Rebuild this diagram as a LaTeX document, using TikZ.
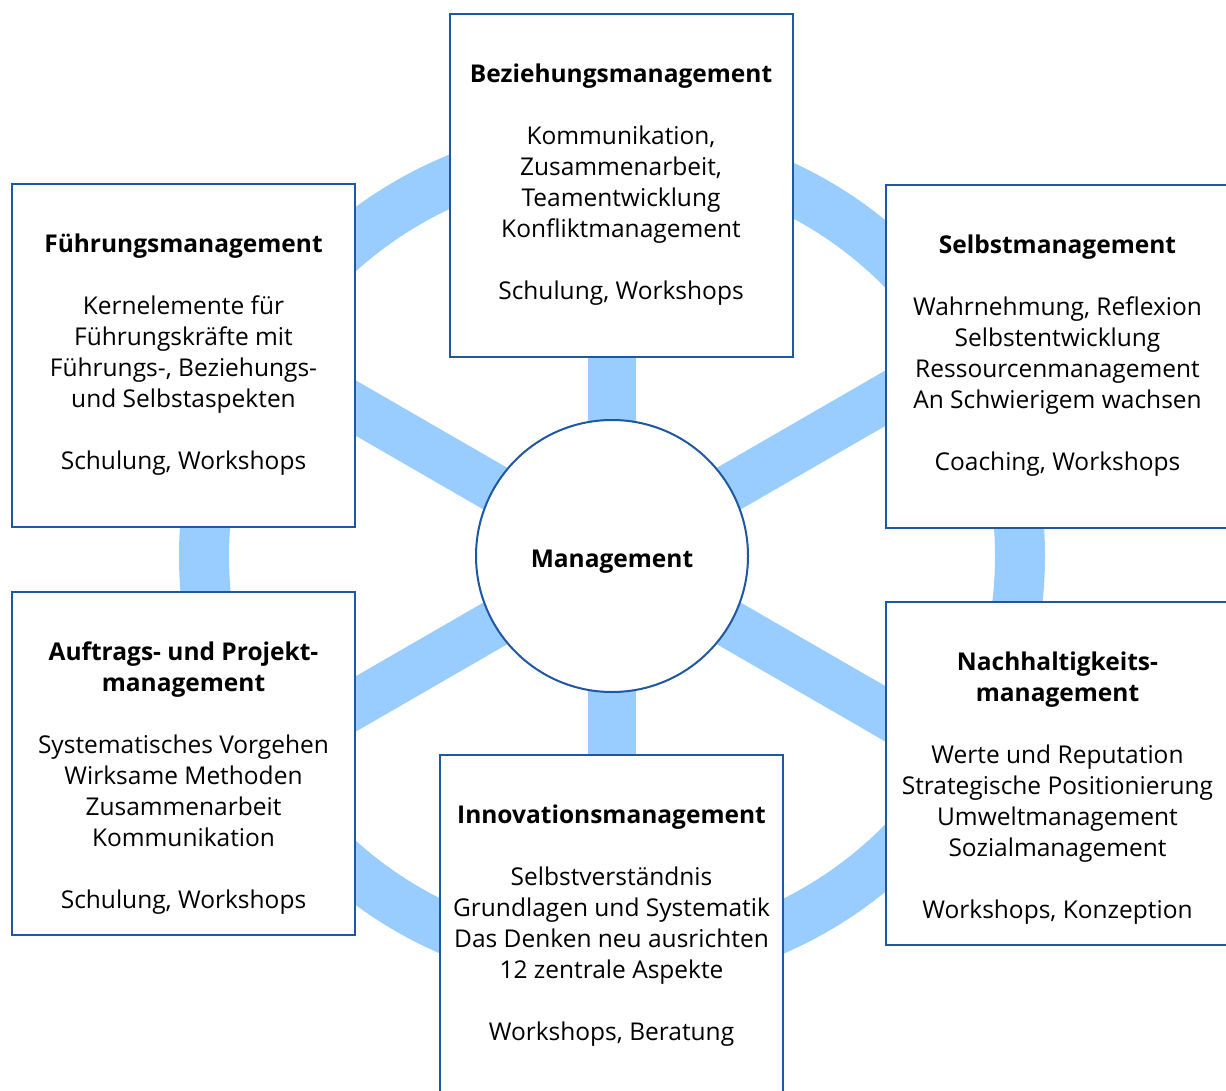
\documentclass[tikz,border=0pt]{standalone}
\usepackage{fontspec}
\setmainfont{Open Sans}
\usetikzlibrary{positioning}
\definecolor{rim}{HTML}{99CCFF}
\definecolor{frame}{HTML}{1F57A0}

\begin{document}
\begin{tikzpicture}[x=1pt,y=-1pt,
  box/.style={draw=frame,line width=2pt,fill=white,minimum width=343pt,
              minimum height=343pt,inner sep=0pt},
  txt/.style={align=center,inner sep=0pt,font=\fontsize{24.5}{31}\selectfont},
  band/.style={draw=rim,line width=50pt},
  hub/.style={circle,draw=frame,line width=2pt,fill=white,minimum size=272pt,
              font=\fontsize{24.5}{31}\selectfont\bfseries}
]
  \useasboundingbox (0,0) rectangle (1226,1091);
  \coordinate (c) at (612,556);
  % wheel: rim and six spokes
  \draw[band] (c) circle (408pt);
  \foreach \a in {30,90,...,330}
    \draw[band,line width=48pt] (c) -- ++(\a:460);
  % fields
  \node[box] (bez) at (621,185.5) {};
  \node[box] (fuehr) at (183.5,355.5) {};
  \node[box] (selbst) at (1057.5,356.5) {};
  \node[box] (auftrag) at (183.5,763.5) {};
  \node[box] (nach) at (1057.5,773.5) {};
  \node[box] (inno) at (611.5,926.5) {};
  \node[txt,below=50.5pt of bez.north] (beztxt) {\textbf{Beziehungsmanagement}\\[31pt]
    Kommunikation,\\Zusammenarbeit,\\Teamentwicklung\\Konfliktmanagement\\[31pt]
    Schulung, Workshops};
  \node[txt,below=50.5pt of fuehr.north] (fuehrtxt) {\textbf{Führungsmanagement}\\[31pt]
    Kernelemente für\\Führungskräfte mit\\Führungs-, Beziehungs-\\und Selbstaspekten\\[31pt]
    Schulung, Workshops};
  \node[txt,below=50.5pt of selbst.north] (selbsttxt) {\textbf{Selbstmanagement}\\[31pt]
    Wahrnehmung, Reflexion\\Selbstentwicklung\\Ressourcenmanagement\\An Schwierigem wachsen\\[31pt]
    Coaching, Workshops};
  \node[txt,below=50.5pt of auftrag.north] (auftragtxt) {\textbf{Auftrags- und Projekt-}\\\textbf{management}\\[31pt]
    Systematisches Vorgehen\\Wirksame Methoden\\Zusammenarbeit\\Kommunikation\\[31pt]
    Schulung, Workshops};
  \node[txt,below=50.5pt of nach.north] (nachtxt) {\textbf{Nachhaltigkeits-}\\\textbf{management}\\[31pt]
    Werte und Reputation\\Strategische Positionierung\\Umweltmanagement\\Sozialmanagement\\[31pt]
    Workshops, Konzeption};
  \node[txt,below=50.5pt of inno.north] (innotxt) {\textbf{Innovationsmanagement}\\[31pt]
    Selbstverständnis\\Grundlagen und Systematik\\Das Denken neu ausrichten\\12 zentrale Aspekte\\[31pt]
    Workshops, Beratung};
  % centre
  \node[hub] (hub) at (c) {\smash{\raisebox{-11pt}{Management}}};
\end{tikzpicture}
\end{document}
